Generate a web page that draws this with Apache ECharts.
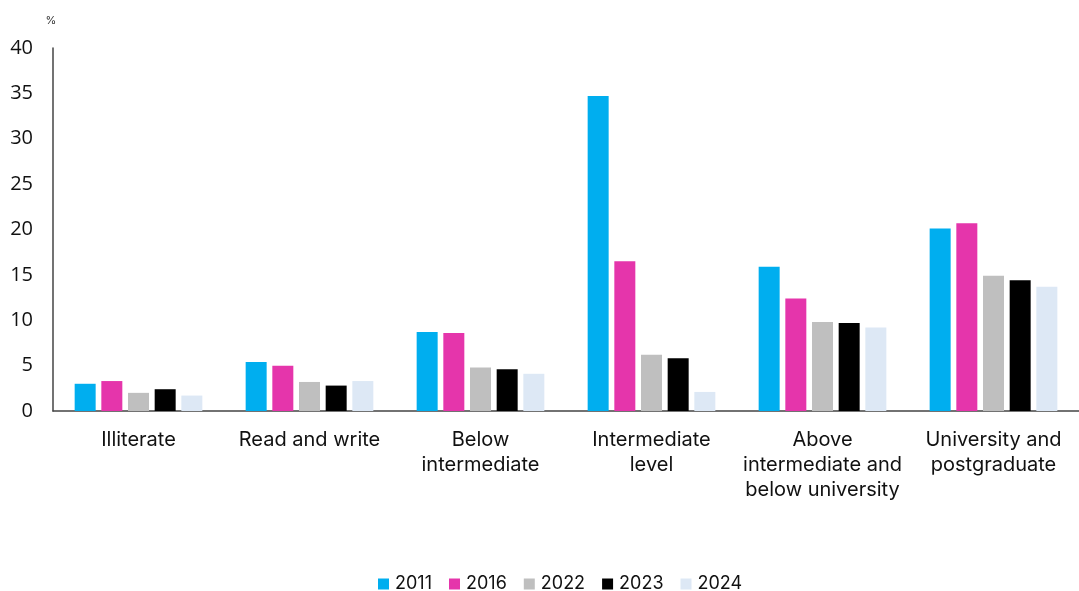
<!DOCTYPE html>
<html>
<head>
<meta charset="utf-8">
<script src="https://cdn.jsdelivr.net/npm/echarts@6/dist/echarts.min.js"></script>
<style>
  html, body { margin: 0; padding: 0; background: #fff; }
  #chart { width: 1079px; height: 591px; }
</style>
</head>
<body>
<div id="chart"></div>
<script>
const categories = [
  "Illiterate",
  "Read and write",
  "Below\nintermediate",
  "Intermediate\nlevel",
  "Above\nintermediate and\nbelow university",
  "University and\npostgraduate",
];
const years = ["2011", "2016", "2022", "2023", "2024"];
const values2011 = [3.0, 5.4, 8.7, 34.7, 15.9, 20.1];
const values2016 = [3.3, 5.0, 8.6, 16.5, 12.4, 20.7];
const values2022 = [2.0, 3.2, 4.8, 6.2, 9.8, 14.9];
const values2023 = [2.4, 2.8, 4.6, 5.8, 9.7, 14.4];
const values2024 = [1.7, 3.3, 4.1, 2.1, 9.2, 13.7];
const yTicks = [0, 5, 10, 15, 20, 25, 30, 35, 40];

const colors = ["#00AEEF", "#E535AB", "#BFBFBF", "#000000", "#DDE8F5"];
const seriesValues = [values2011, values2016, values2022, values2023, values2024];

const chart = echarts.init(document.getElementById("chart"));
const option = {
  animation: false,
  color: colors,
  textStyle: { fontFamily: "Inter, Roboto, sans-serif" },
  grid: {
    left: 53,
    right: 0,
    top: 48,
    bottom: 180,
    containLabel: false,
  },
  legend: {
    top: 570,
    left: 373,
    itemWidth: 11,
    itemHeight: 11,
    itemGap: 17,
    icon: "rect",
    textStyle: { fontSize: 18, color: "#111", padding: [0, 0, 0, 1] },
    data: years,
  },
  xAxis: {
    type: "category",
    data: categories,
    axisTick: { show: false },
    axisLine: { lineStyle: { color: "#444", width: 1.5 } },
    axisLabel: {
      fontSize: 20,
      color: "#111",
      lineHeight: 25,
      margin: 16,
      interval: 0,
    },
  },
  yAxis: {
    type: "value",
    min: yTicks[0],
    max: yTicks[yTicks.length - 1],
    interval: 5,
    name: "%",
    nameLocation: "end",
    nameGap: 22,
    nameTextStyle: { fontSize: 11, color: "#333", align: "center", padding: [0, 0, 0, -4] },
    splitLine: { show: false },
    axisTick: { show: false },
    axisLine: { show: true, lineStyle: { color: "#444", width: 1.5 } },
    axisLabel: {
      fontSize: 20,
      color: "#111",
      margin: 20,
      fontFamily: "'Open Sans', sans-serif",
    },
  },
  series: years.map((y, i) => ({
    name: y,
    type: "bar",
    data: seriesValues[i],
    barWidth: 21,
    barGap: "27%",
    itemStyle: { color: colors[i] },
  })),
};
chart.setOption(option);
</script>
</body>
</html>
